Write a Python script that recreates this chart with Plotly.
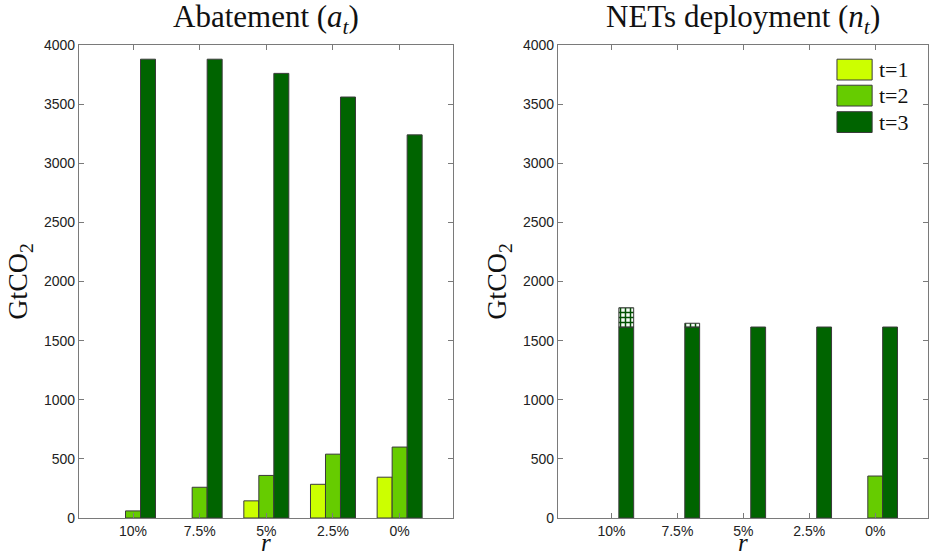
import plotly.graph_objects as go

# Discount rate scenarios (categories)
rates = ["10%", "7.5%", "5%", "2.5%", "0%"]

# Legend names and colours for the three periods
series_names = ["t=1", "t=2", "t=3"]
series_colors = ["#CCFF00", "#66CC00", "#006400"]

# Abatement a_t (GtCO2)
abatement_t1 = [0, 0, 145, 285, 345]
abatement_t2 = [60, 260, 360, 540, 600]
abatement_t3 = [3880, 3880, 3760, 3560, 3240]

# NETs deployment n_t (GtCO2)
nets_t1 = [0, 0, 0, 0, 0]
nets_t2 = [0, 0, 0, 0, 355]
nets_t3 = [1615, 1615, 1615, 1615, 1615]
# additional deployment shown hatched on top of the t=3 bars
nets_t3_extra = [163, 32, 0, 0, 0]

y_ticks = [0, 500, 1000, 1500, 2000, 2500, 3000, 3500, 4000]

SERIF = "Liberation Serif"
SANS = "Liberation Sans"
AXIS_GREY = "#7a7a7a"
EDGE = "#3a3a3a"


def nonzero(vals):
    # zero-height bars are left out so no stray outline is drawn
    return [v if v else None for v in vals]


fig = go.Figure()

panels = [
    ("x", "y", [abatement_t1, abatement_t2, abatement_t3]),
    ("x2", "y2", [nets_t1, nets_t2, nets_t3]),
]
for xa, ya, values in panels:
    for i, (name, color, vals) in enumerate(zip(series_names, series_colors, values)):
        fig.add_trace(go.Bar(
            x=rates, y=nonzero(vals), name=name, xaxis=xa, yaxis=ya,
            offsetgroup=str(i), showlegend=False,
            marker=dict(color=color, line=dict(color=EDGE, width=1)),
        ))

# hatched extension stacked onto the t=3 NETs bars
fig.add_trace(go.Bar(
    x=rates, y=nonzero(nets_t3_extra), base=nets_t3, xaxis="x2", yaxis="y2",
    offsetgroup="2", showlegend=False,
    marker=dict(color="#f4fbf4", line=dict(color=EDGE, width=1),
                pattern=dict(shape="+", fgcolor="#005000", bgcolor="#f4fbf4",
                             size=5, solidity=0.5, fillmode="replace")),
))

axis_common = dict(
    showline=True, linecolor=AXIS_GREY, linewidth=1.2, mirror="ticks",
    ticks="inside", ticklen=5, tickcolor=AXIS_GREY, tickwidth=1,
    showgrid=False, zeroline=False,
    tickfont=dict(family=SANS, size=14, color="#222"),
)

x_common = dict(axis_common, type="category", range=[-0.81, 4.8],
                ticklabelstandoff=0, automargin=False)
y_common = dict(axis_common, range=[0, 4000], tickvals=y_ticks,
                title=dict(text="GtCO<sub>2</sub>", font=dict(family=SERIF, size=28, color="#111"),
                           standoff=8))

fig.update_layout(
    width=933, height=558,
    margin=dict(l=79, r=5, t=45, b=40, autoexpand=False),
    paper_bgcolor="white", plot_bgcolor="white",
    barmode="group", bargap=0.325, bargroupgap=0,
    showlegend=False,
    xaxis=dict(x_common, domain=[0, 0.4405], anchor="y"),
    yaxis=dict(y_common, anchor="x"),
    xaxis2=dict(x_common, domain=[0.5642, 1.0], anchor="y2"),
    yaxis2=dict(y_common, anchor="x2"),
)

# panel titles and x-axis labels
titles = [("x domain", "Abatement (<i>a</i><sub><i>t</i></sub>)"),
          ("x2 domain", "NETs deployment (<i>n</i><sub><i>t</i></sub>)")]
for xref, text in titles:
    fig.add_annotation(x=0.5, xref=xref, y=1, yref="paper", yanchor="bottom",
                       yshift=4, showarrow=False, text=text,
                       font=dict(family=SERIF, size=31, color="#111"))
    fig.add_annotation(x=0.5, xref=xref, y=0, yref="paper", yanchor="bottom",
                       yshift=-40, showarrow=False, text="<i>r</i>",
                       font=dict(family=SERIF, size=25, color="#111"))

# legend drawn inside the NETs panel
row_y = [0.948, 0.893, 0.837]
for name, color, yc in zip(series_names, series_colors, row_y):
    fig.add_shape(type="rect", xref="x2 domain", yref="y2 domain",
                  x0=0.754, x1=0.849, y0=yc - 0.022, y1=yc + 0.022,
                  fillcolor=color, line=dict(color=EDGE, width=1))
    fig.add_annotation(x=0.862, xref="x2 domain", y=yc, yref="y2 domain",
                       xanchor="left", yanchor="middle", showarrow=False,
                       text=name, font=dict(family=SERIF, size=22, color="#111"))

fig.write_html("out.html")
